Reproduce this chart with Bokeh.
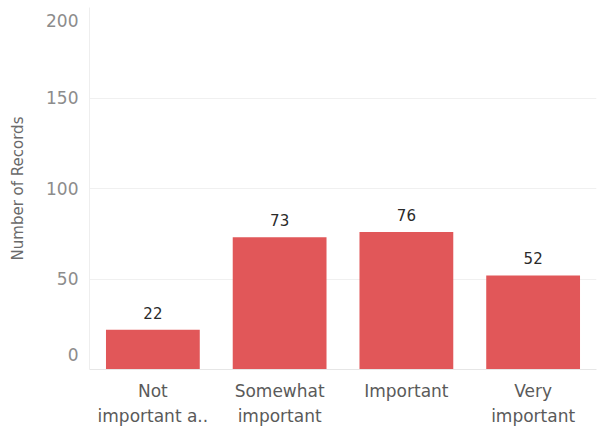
from bokeh.plotting import figure
from bokeh.models import ColumnDataSource, Range1d, FactorRange
from bokeh.core.properties import value
from bokeh.embed import file_html
from bokeh.resources import INLINE

categories = ["Not\nimportant a..", "Somewhat\nimportant", "Important", "Very\nimportant"]
records = [22, 73, 76, 52]
y_ticks = [0, 50, 100, 150, 200]

FONT = "DejaVu Sans"

src = ColumnDataSource(dict(cat=categories, val=records, lbl=[str(v) for v in records]))

p = figure(x_range=FactorRange(*categories), y_range=Range1d(0, 200),
           width=613, height=428, output_backend="svg", toolbar_location=None,
           min_border_left=89, min_border_right=17, min_border_top=7, min_border_bottom=58)
p.outline_line_color = None
p.x_range.range_padding = 0

p.vbar(x="cat", top="val", width=0.74, source=src, fill_color="#E15759", line_color=None)
p.text(x="cat", y="val", text="lbl", source=src, text_align="center", text_baseline="middle",
       y_offset=-17, text_font=value(FONT), text_font_size="15px", text_color="#2a2a2a")

p.yaxis.ticker = y_ticks
p.yaxis.major_label_overrides = {200: " \n200", 0: "0\n \n \n "}
p.yaxis.major_label_text_line_height = 0.5
p.yaxis.axis_label = "Number of Records"
p.yaxis.axis_label_text_font = FONT
p.yaxis.axis_label_text_font_style = "normal"
p.yaxis.axis_label_text_font_size = "15px"
p.yaxis.axis_label_text_color = "#6a6a6a"
p.yaxis.axis_label_standoff = 16
p.yaxis.major_label_text_font = FONT
p.yaxis.major_label_text_font_size = "17px"
p.yaxis.major_label_text_color = "#8c8c8c"
p.yaxis.axis_line_color = "#eeeeee"
p.yaxis.major_tick_line_color = None
p.yaxis.minor_tick_line_color = None
p.yaxis.major_label_standoff = 5

p.xaxis.major_label_text_font = FONT
p.xaxis.major_label_text_font_size = "17px"
p.xaxis.major_label_text_color = "#5a5a5a"
p.xaxis.major_label_text_line_height = 1.25
p.xaxis.axis_line_color = "#e6e6e6"
p.xaxis.major_tick_line_color = None
p.xaxis.minor_tick_line_color = None
p.xaxis.major_label_standoff = 5

p.xgrid.grid_line_color = None
p.ygrid.grid_line_color = "#f0f0f0"

open("out.html", "w").write(file_html(p, INLINE))
